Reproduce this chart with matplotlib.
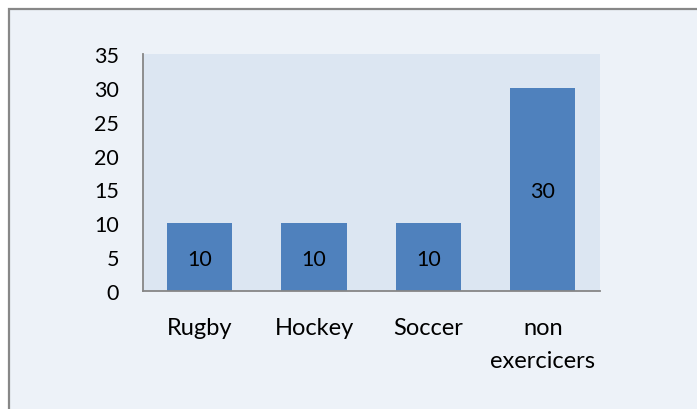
import matplotlib
matplotlib.use("Agg")
import matplotlib.pyplot as plt
from matplotlib.patches import Rectangle

categories = ["Rugby", "Hockey", "Soccer", "non\nexercicers"]
values = [10, 10, 10, 30]
yticks = [0, 5, 10, 15, 20, 25, 30, 35]

W, H = 697, 410
plt.rcParams['font.family'] = ['Lato', 'DejaVu Sans']
fig = plt.figure(figsize=(W / 100, H / 100), dpi=100, facecolor="white")

# outer chart area with border
fig.patches.append(Rectangle((8.5 / W, -20 / H), (W + 40) / W, (H - 9.5 + 20) / H,
                             transform=fig.transFigure, facecolor="#EDF2F8",
                             edgecolor="#878787", linewidth=1.6, zorder=-10))

left, right, top, bottom = 142.5, 600, 55, 292
ax = fig.add_axes([left / W, (H - bottom) / H, (right - left) / W, (bottom - top) / H])
ax.set_zorder(5)
ax.set_facecolor("#DCE6F2")

x = list(range(len(categories)))
bars = ax.bar(x, values, width=0.57, color="#4F81BD", zorder=2)
for xi, v in zip(x, values):
    ax.text(xi, v / 2, str(v), ha="center", va="center_baseline", fontsize=15.5,
            color="black", zorder=3)

ax.set_xlim(-0.5, len(categories) - 0.5)
ax.set_ylim(0, 35)
ax.set_yticks(yticks)
ax.set_xticks(x)
ax.set_xticklabels(categories, fontsize=17, linespacing=1.7)
ax.tick_params(axis="y", length=0, pad=17, labelsize=15.5)
ax.tick_params(axis="x", length=0, pad=19)
for s in ["top", "right"]:
    ax.spines[s].set_visible(False)
for s in ["left", "bottom"]:
    ax.spines[s].set_color("#868686")
    ax.spines[s].set_linewidth(1.3)

fig.savefig("out.png", dpi=100, facecolor="white")
